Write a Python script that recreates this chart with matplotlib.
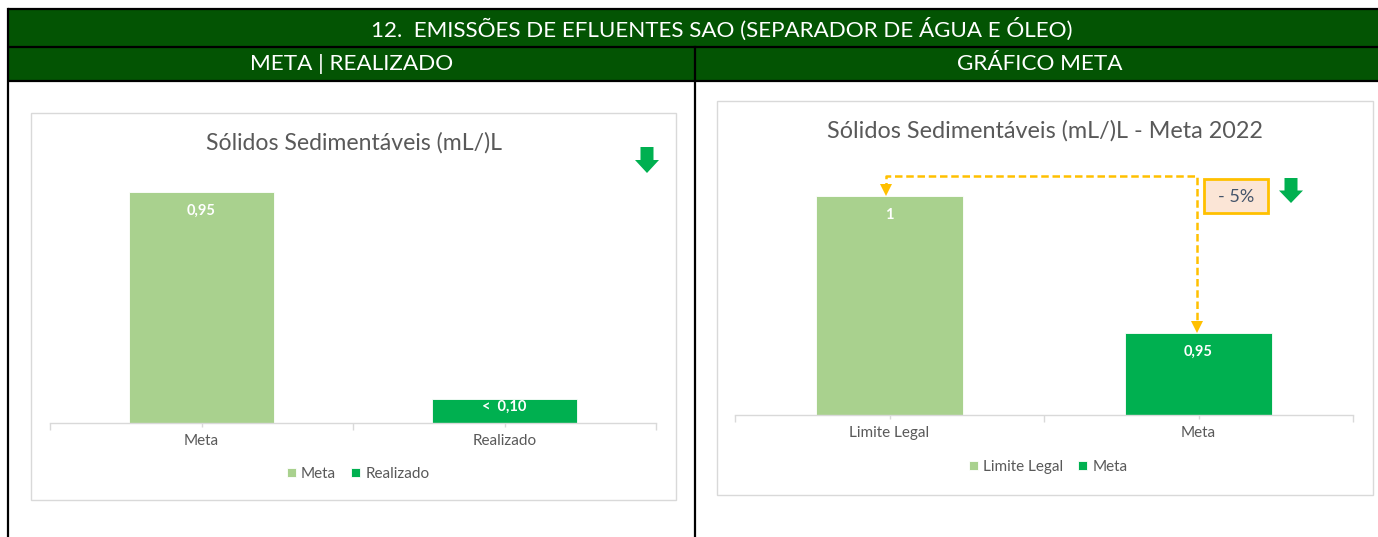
import matplotlib
matplotlib.use("Agg")
import matplotlib.pyplot as plt
from matplotlib.patches import Rectangle, Polygon

# ---------------- data ----------------
header_title = "12.  EMISSÕES DE EFLUENTES SAO (SEPARADOR DE ÁGUA E ÓLEO)"
left_header = "META | REALIZADO"
right_header = "GRÁFICO META"

left_title = "Sólidos Sedimentáveis (mL/)L"
left_categories = ["Meta", "Realizado"]
left_values = [0.95, 0.10]
left_labels = ["0,95", "<  0,10"]

right_title = "Sólidos Sedimentáveis (mL/)L - Meta 2022"
right_categories = ["Limite Legal", "Meta"]
right_values = [1.00, 0.95]
right_labels = ["1", "0,95"]
reduction_label = "- 5%"

# ---------------- style ----------------
W, H = 1378, 537
FONT = "Lato"
plt.rcParams["font.family"] = [FONT, "DejaVu Sans"]
DARK_GREEN = "#035403"
LIGHT = "#A9D18E"
GREEN = "#00B050"
GREY_TXT = "#595959"
GRID = "#D9D9D9"
YELLOW = "#FFC000"

fig = plt.figure(figsize=(W / 100, H / 100), dpi=100)
fig.patch.set_facecolor("white")


def add_ax(x0, y0, x1, y1, **kw):
    return fig.add_axes([x0 / W, 1 - y1 / H, (x1 - x0) / W, (y1 - y0) / H], **kw)


# overlay for frame / headers
ov = add_ax(0, 0, W, H, zorder=0)
ov.set_xlim(0, W)
ov.set_ylim(H, 0)
ov.axis("off")

ov.add_patch(Rectangle((8, 9), W - 8, 72, facecolor=DARK_GREEN, edgecolor="none"))
for y in (9, 47, 81):
    ov.plot([8, W], [y, y], color="black", lw=1.6, solid_capstyle="butt")
ov.plot([8, 8], [9, H], color="black", lw=1.6)
ov.plot([695, 695], [47, H], color="black", lw=1.6)

ov.text(722, 29, header_title, color="white", fontsize=16.1, ha="center", va="center")
ov.text(352, 64, left_header, color="white", fontsize=16.2, ha="center", va="center")
ov.text(1040, 64, right_header, color="white", fontsize=16.2, ha="center", va="center")

# chart boxes
ov.add_patch(Rectangle((31, 113), 645, 387, facecolor="white", edgecolor=GRID, lw=1))
ov.add_patch(Rectangle((717, 101), 656, 394, facecolor="white", edgecolor=GRID, lw=1))

ov.text(354, 143, left_title, color=GREY_TXT, fontsize=16.6, ha="center", va="center")
ov.text(1045, 131, right_title, color=GREY_TXT, fontsize=16.8, ha="center", va="center")


def down_arrow(cx, top, bottom, color=GREEN):
    hw, sw = 12, 6.5
    mid = top + (bottom - top) * 0.5
    pts = [(cx - sw, top), (cx + sw, top), (cx + sw, mid), (cx + hw, mid),
           (cx, bottom), (cx - hw, mid), (cx - sw, mid)]
    ov.add_patch(Polygon(pts, closed=True, facecolor=color, edgecolor="none"))


down_arrow(647, 147, 173)
down_arrow(1291, 178, 203)

# reduction box
ov.add_patch(Rectangle((1204, 179), 64, 34, facecolor="#FBE5D6", edgecolor=YELLOW, lw=2))
ov.text(1236, 197, reduction_label, color="#44546A", fontsize=13, ha="center", va="center")


def style_axis(ax):
    for s in ("left", "right", "top"):
        ax.spines[s].set_visible(False)
    ax.spines["bottom"].set_color(GRID)
    ax.spines["bottom"].set_linewidth(1)
    ax.set_yticks([])
    ax.set_xticks([-0.5, 0.5, 1.5])
    ax.set_xticklabels([])
    ax.set_xticks([0, 1], minor=True)
    ax.tick_params(axis="x", which="major", length=5, color=GRID, width=1)
    ax.tick_params(axis="x", which="minor", length=3, color=GRID, width=1,
                   labelsize=11, labelcolor=GREY_TXT, pad=5)
    ax.set_xlim(-0.5, 1.5)
    ax.patch.set_alpha(0)


def add_labels(ax, values, labels):
    y0 = ax.get_ylim()[0]
    for i, (v, lab) in enumerate(zip(values, labels)):
        hpx = ax.transData.transform((i, v))[1] - ax.transData.transform((i, y0))[1]
        off_px = min(19.0, hpx / 2 - 4)
        ax.annotate(lab, (i, v), xytext=(0, -off_px * 0.72), textcoords="offset points",
                    ha="center", va="center", color="white", fontsize=10.5,
                    fontweight="bold")


colors = [LIGHT, GREEN]
leg_kw = dict(loc="center", bbox_transform=fig.transFigure, ncol=2, frameon=False,
              fontsize=11, handlelength=0.6, handleheight=0.6, handletextpad=0.35,
              columnspacing=0.95, labelcolor=GREY_TXT)

# ---------------- left chart ----------------
axL = add_ax(50, 180, 656, 423, zorder=2)
barsL = []
for i, (c, v) in enumerate(zip(left_categories, left_values)):
    b = axL.bar(i, v, width=0.48, color=colors[i], edgecolor="white", linewidth=0.6, label=c)
    barsL.append(b)
axL.set_ylim(0, 1.0)
style_axis(axL)
axL.set_xticklabels(left_categories, minor=True)
add_labels(axL, left_values, left_labels)
axL.legend(handles=[b[0] for b in barsL], labels=left_categories,
           bbox_to_anchor=(358 / W, 1 - 474 / H), **leg_kw)

# ---------------- right chart ----------------
axR = add_ax(735, 168.4, 1353, 415, zorder=2)
barsR = []
for i, (c, v) in enumerate(zip(right_categories, right_values)):
    b = axR.bar(i, v, width=0.475, color=colors[i], edgecolor="white", linewidth=0.6, label=c)
    barsR.append(b)
axR.set_ylim(0.92, 1.01)
style_axis(axR)
axR.set_xticklabels(right_categories, minor=True)
add_labels(axR, right_values, right_labels)
axR.legend(handles=[b[0] for b in barsR], labels=right_categories,
           bbox_to_anchor=(1048 / W, 1 - 467 / H), **leg_kw)

# dashed connector from Limite Legal to Meta
y_top = right_values[0] + 0.0072
xs = [-0.01, -0.01, 0.995, 0.995]
ys = [right_values[0] + 0.002, y_top, y_top, right_values[1] + 0.003]
axR.plot(xs, ys, color=YELLOW, lw=1.8, ls=(0, (3, 1.5)), clip_on=False, zorder=4)
axR.plot([xs[0]], [right_values[0] + 0.0022], marker="v", color=YELLOW, ms=8,
         clip_on=False, zorder=5, markeredgewidth=0)
axR.plot([xs[-1]], [right_values[1] + 0.0022], marker="v", color=YELLOW, ms=8,
         clip_on=False, zorder=5, markeredgewidth=0)

fig.savefig("out.png", dpi=100, facecolor="white")
